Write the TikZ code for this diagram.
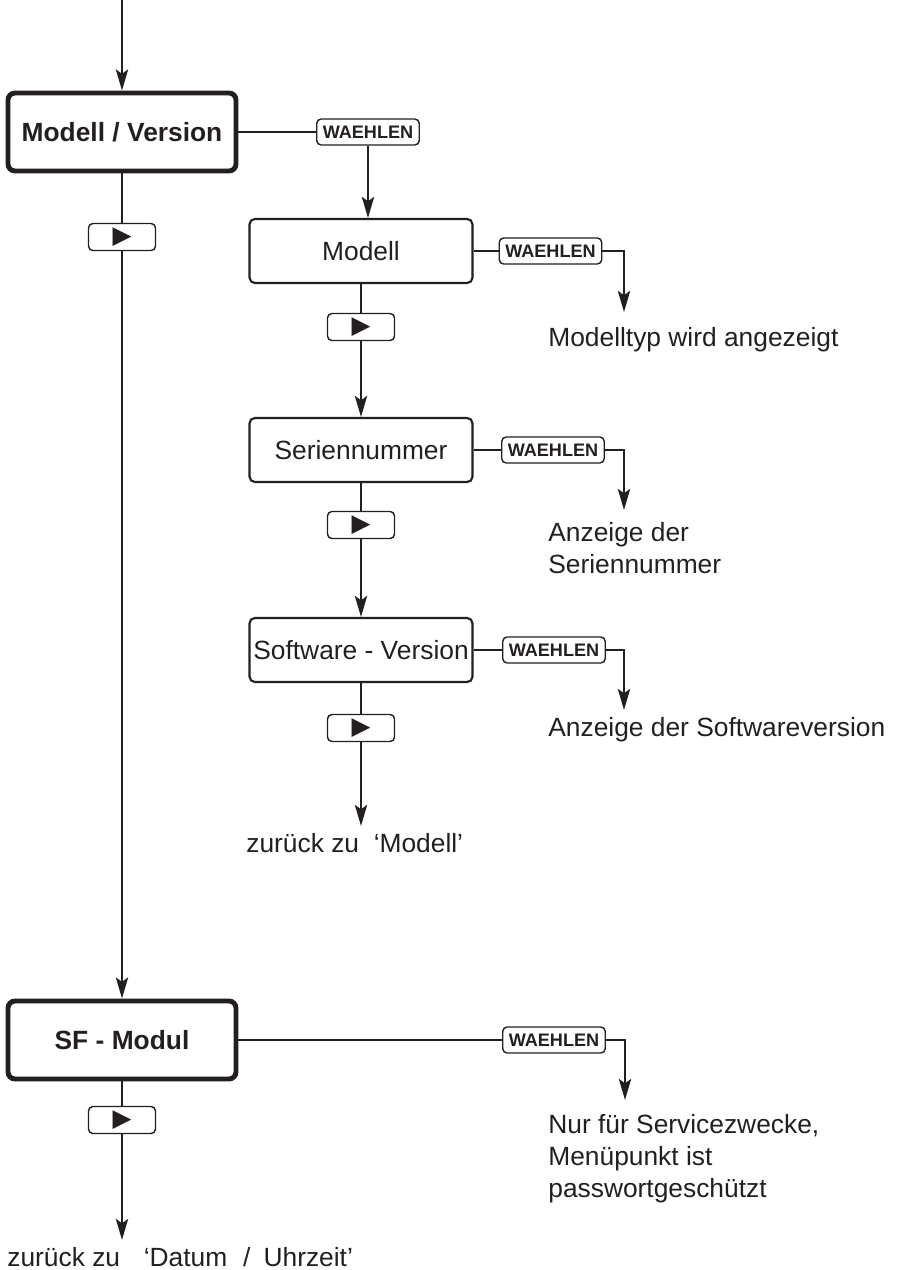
\documentclass[tikz,border=0pt]{standalone}
\usepackage{fontspec}
\setmainfont{Liberation Sans}
\newfontfamily\symfont{DejaVu Sans}
\usepackage{tikz}
\usetikzlibrary{arrows.meta,positioning}
\definecolor{ink}{HTML}{231F20}
\tikzset{
  menubox/.style={
    rectangle, rounded corners=4pt, draw=ink, line width=2.8pt,
    minimum width=4.56cm, minimum height=1.56cm,
    font=\fontsize{15}{18}\selectfont\bfseries, text=ink,
    inner sep=0pt
  },
  itembox/.style={
    rectangle, rounded corners=3pt, draw=ink, line width=1.2pt,
    minimum width=4.46cm, minimum height=1.28cm,
    font=\fontsize{15}{18}\selectfont, text=ink,
    inner sep=0pt
  },
  keybox/.style={
    rectangle, rounded corners=2.5pt, draw=ink, line width=0.8pt,
    minimum width=2.05cm, minimum height=0.52cm,
    font=\fontsize{10.3}{12}\selectfont\bfseries, text=ink,
    inner sep=0pt
  },
  nextbtn/.style={
    rectangle, rounded corners=2.5pt, draw=ink, line width=0.8pt,
    minimum width=1.34cm, minimum height=0.54cm,
    font=\symfont\fontsize{14}{14}\selectfont, text=ink,
    inner sep=0pt
  },
  infotext/.style={
    font=\fontsize{15}{18.2}\selectfont, text=ink,
    align=left, anchor=west, inner sep=0pt
  },
  flowline/.style={line width=1.1pt, draw=ink},
  flowarrow/.style={
    flowline, -{Stealth[length=12pt, width=7pt, inset=2.5pt]}
  },
}

\begin{document}
\begin{tikzpicture}[x=0.02cm, y=-0.02cm]
  \useasboundingbox (0,0) rectangle (896,1270);

  % main menu column
  \coordinate (entry) at (122,0);
  \node[menubox] (mv) at (122,132) {Modell / Version};
  \node[nextbtn] (nx1) at (122,237) {▶};
  \node[menubox] (sf) at (122,1040) {SF - Modul};
  \node[nextbtn] (nx5) at (122,1120) {▶};
  \node[infotext] (back2) at (7,1257)
    {zurück zu\hspace{0.9em}`Datum\hspace{0.6em}/\hspace{0.5em}Uhrzeit'};
  \draw[flowarrow] (entry) -- (mv.north);
  \draw[flowline] (mv.south) -- (nx1.north);
  \draw[flowarrow] (nx1.south) -- (sf.north);
  \draw[flowline] (sf.south) -- (nx5.north);
  \draw[flowarrow, shorten >=4pt] (nx5.south) -- (nx5.south |- back2.north);

  % sub menu column
  \node[keybox] (wa1) at (368,132) {WAEHLEN};
  \node[itembox] (modell) at (361,251) {Modell};
  \node[keybox] (wa2) at (550.5,251) {WAEHLEN};
  \coordinate (tip1) at (624,312);
  \node[infotext] (info1) at (548,340) {Modelltyp wird angezeigt};
  \node[nextbtn] (nx2) at (361,327) {▶};

  \node[itembox] (serie) at (361,450) {Seriennummer};
  \node[keybox] (wa3) at (553,450) {WAEHLEN};
  \coordinate (tip2) at (624,510);
  \node[infotext] (info2) at (548,548) {Anzeige der\\Seriennummer};
  \node[nextbtn] (nx3) at (361,525) {▶};

  \node[itembox] (soft) at (361,650) {Software - Version};
  \node[keybox] (wa4) at (554,650) {WAEHLEN};
  \coordinate (tip3) at (624,710);
  \node[infotext] (info3) at (548,730) {Anzeige der Softwareversion};
  \node[nextbtn] (nx4) at (361,728) {▶};
  \node[infotext] (back1) at (246,843) {zurück zu\ \ `Modell'};

  \draw[flowline] (mv.east) -- (wa1.west);
  \draw[flowarrow] (wa1.south) -- (wa1.south |- modell.north);
  \draw[flowline] (modell.east) -- (wa2.west);
  \draw[flowarrow] (wa2.east) -| (tip1);
  \draw[flowline] (modell.south) -- (nx2.north);
  \draw[flowarrow] (nx2.south) -- (serie.north);
  \draw[flowline] (serie.east) -- (wa3.west);
  \draw[flowarrow] (wa3.east) -| (tip2);
  \draw[flowline] (serie.south) -- (nx3.north);
  \draw[flowarrow] (nx3.south) -- (soft.north);
  \draw[flowline] (soft.east) -- (wa4.west);
  \draw[flowarrow] (wa4.east) -| (tip3);
  \draw[flowline] (soft.south) -- (nx4.north);
  \draw[flowarrow, shorten >=4pt] (nx4.south) -- (nx4.south |- back1.north);

  % service entry
  \node[keybox] (wa5) at (554,1040) {WAEHLEN};
  \coordinate (tip4) at (625,1100);
  \node[infotext] (info4) at (548,1159)
    {Nur für Servicezwecke,\\Menüpunkt ist\\passwortgeschützt};
  \draw[flowline] (sf.east) -- (wa5.west);
  \draw[flowarrow] (wa5.east) -| (tip4);
\end{tikzpicture}
\end{document}
